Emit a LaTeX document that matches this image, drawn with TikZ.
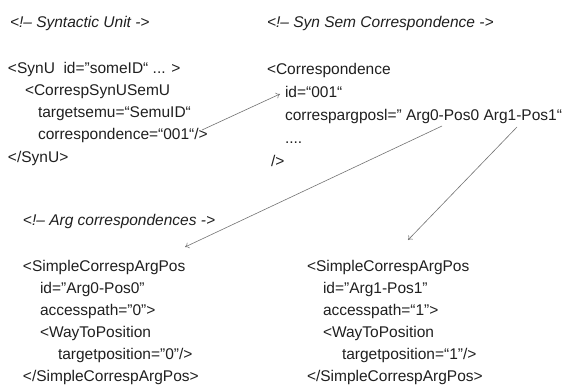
\documentclass[tikz,border=0pt]{standalone}
\usepackage{fontspec}
\setmainfont{Liberation Sans}
\usetikzlibrary{arrows.meta}
\begin{document}
\begin{tikzpicture}[x=1pt,y=-1pt,
  txt/.style={anchor=base west, inner sep=0pt, outer sep=0pt, text=black!88,
              font=\fontsize{15.5}{18}\selectfont},
  cmt/.style={txt, font=\fontsize{15.5}{18}\selectfont\itshape},
  link/.style={draw=black!55, line width=0.6pt, -{To[length=4pt,width=6pt]}}]
\useasboundingbox (0,0) rectangle (570,388);
% headers
\node[cmt] (h1) at (10,27.5) {<!– Syntactic Unit ->};
\node[cmt] (h2) at (267,27.5) {<!– Syn Sem Correspondence ->};
% syntactic unit
\node[txt] (s1) at (8,73.5) {<SynU\ \ id="someID“ ... >};
\node[txt] (s2) at (25,95.5) {<CorrespSynUSemU};
\node[txt] (s3) at (38,117.5) {targetsemu=“SemuID“};
\node[txt] (s4) at (38,139.5) {correspondence=“001“/>};
\node[txt] (s5) at (8,162.5) {</SynU>};
% correspondence
\node[txt] (c1) at (267,74) {<Correspondence};
\node[txt] (c2) at (285,97) {id=“001“};
\node[txt] (c3) at (285,120) {correspargposl=" Arg0-Pos0 Arg1-Pos1“};
\node[txt] (c4) at (285,143) {....};
\node[txt] (c5) at (271,166) {/>};
% arg header
\node[cmt] (h3) at (23,225.5) {<!– Arg correspondences ->};
% left arg block
\node[txt] (l1) at (23,271.5) {<SimpleCorrespArgPos};
\node[txt] (l2) at (40,293.5) {id="Arg0-Pos0"};
\node[txt] (l3) at (40,315.5) {accesspath="0">};
\node[txt] (l4) at (40,337.5) {<WayToPosition};
\node[txt] (l5) at (58,359.5) {targetposition="0"/>};
\node[txt] (l6) at (23,381.5) {</SimpleCorrespArgPos>};
% right arg block
\node[txt] (r1) at (307,271.5) {<SimpleCorrespArgPos};
\node[txt] (r2) at (323,293.5) {id="Arg1-Pos1"};
\node[txt] (r3) at (323,315.5) {accesspath=“1">};
\node[txt] (r4) at (323,337.5) {<WayToPosition};
\node[txt] (r5) at (342,359.5) {targetposition=“1"/>};
\node[txt] (r6) at (307,381.5) {</SimpleCorrespArgPos>};
% connector ends
\coordinate (a1s) at (202,130);
\coordinate (a1e) at (280,94);
\coordinate (a2s) at (442,126);
\coordinate (a2e) at (185,247);
\coordinate (a3s) at (517,127);
\coordinate (a3e) at (408,240);
\draw[link] (a1s) -- (a1e);
\draw[link] (a2s) -- (a2e);
\draw[link] (a3s) -- (a3e);
\end{tikzpicture}
\end{document}
